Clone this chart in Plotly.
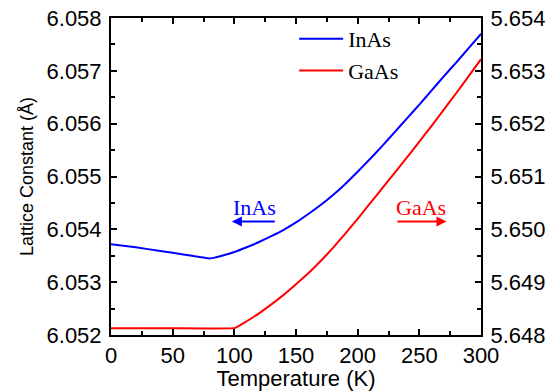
import plotly.graph_objects as go

# ---- data ----
inas_T = [0, 20, 40, 60, 80, 85, 90, 100, 110, 120, 130, 140, 150, 160, 170, 180,
          190, 200, 210, 220, 230, 240, 250, 260, 270, 280, 290, 300]
inas_a = [6.05372, 6.05366, 6.05359, 6.05352, 6.05345, 6.05347, 6.05350, 6.05357,
          6.05366, 6.05376, 6.05387, 6.05399, 6.05413, 6.05429, 6.05446, 6.05465,
          6.05486, 6.05509, 6.05533, 6.05558, 6.05584, 6.05610, 6.05636, 6.05663,
          6.05690, 6.05716, 6.05743, 6.05770]
gaas_T = [0, 50, 100, 105, 110, 120, 130, 140, 150, 160, 170, 180, 190, 200,
          210, 220, 230, 240, 250, 260, 270, 280, 290, 300]
gaas_a = [5.64813, 5.64813, 5.64813, 5.64819, 5.64826, 5.64841, 5.64858, 5.64876,
          5.64896, 5.64917, 5.64940, 5.64965, 5.64992, 5.65020, 5.65049, 5.65078,
          5.65107, 5.65136, 5.65166, 5.65196, 5.65227, 5.65258, 5.65290, 5.65322]
x_ticks = [0, 50, 100, 150, 200, 250, 300]
left_ticks = [6.052, 6.053, 6.054, 6.055, 6.056, 6.057, 6.058]
right_ticks = [5.648, 5.649, 5.650, 5.651, 5.652, 5.653, 5.654]

SANS = "Liberation Sans, Arial, sans-serif"
SERIF = "Liberation Serif, Times New Roman, serif"

fig = go.Figure()
fig.add_trace(go.Scatter(x=inas_T, y=inas_a, mode="lines", name="InAs",
                         line=dict(color="#0000ff", width=2, shape="spline", smoothing=0.5),
                         yaxis="y"))
fig.add_trace(go.Scatter(x=gaas_T, y=gaas_a, mode="lines", name="GaAs",
                         line=dict(color="#ff0000", width=2, shape="spline", smoothing=0.3),
                         yaxis="y2"))

axis_common = dict(showline=True, linecolor="black", linewidth=2, ticks="inside",
                   ticklen=6, tickwidth=2, tickcolor="black", showgrid=False,
                   zeroline=False, automargin=False, ticklabeloverflow="allow",
                   tickfont=dict(family=SANS, size=22, color="black"))

fig.update_layout(
    width=557, height=391,
    margin=dict(l=111, r=76, t=18, b=56),
    paper_bgcolor="white", plot_bgcolor="white",
    showlegend=True,
    legend=dict(x=0.495, y=1.0, xanchor="left", yanchor="top",
                bgcolor="rgba(0,0,0,0)", font=dict(family=SERIF, size=22, color="black"),
                itemwidth=44),
    xaxis=dict(range=[0, 300], tickvals=x_ticks, mirror="ticks", ticklabelstandoff=0,
               minor=dict(dtick=25, ticks="inside", ticklen=4, tickwidth=2, tickcolor="black"),
               title=dict(text="Temperature (K)", font=dict(family=SANS, size=22, color="black"),
                          standoff=0),
               **axis_common),
    yaxis=dict(range=[6.052, 6.058], tickvals=left_ticks, tickformat=".3f", ticklabelstandoff=3,
               minor=dict(dtick=0.0005, ticks="inside", ticklen=4, tickwidth=2, tickcolor="black"),
               title=dict(text="Lattice Constant (Å)", font=dict(family=SANS, size=18, color="black"),
                          standoff=8),
               **axis_common),
    yaxis2=dict(range=[5.648, 5.654], tickvals=right_ticks, tickformat=".3f", ticklabelstandoff=3,
                overlaying="y", side="right",
                minor=dict(dtick=0.0005, ticks="inside", ticklen=4, tickwidth=2, tickcolor="black"),
                **axis_common),
    annotations=[
        dict(x=98, y=6.05415, xref="x", yref="y", ax=134, ay=6.05415, axref="x", ayref="y",
             showarrow=True, arrowhead=2, arrowsize=1, arrowwidth=2, arrowcolor="#0000ff", text=""),
        dict(x=116, y=6.05442, xref="x", yref="y", text="InAs", showarrow=False,
             font=dict(family=SERIF, size=22, color="#0000ff")),
        dict(x=272, y=6.05415, xref="x", yref="y", ax=231, ay=6.05415, axref="x", ayref="y",
             showarrow=True, arrowhead=2, arrowsize=1, arrowwidth=2, arrowcolor="#ff0000", text=""),
        dict(x=251, y=6.05442, xref="x", yref="y", text="GaAs", showarrow=False,
             font=dict(family=SERIF, size=22, color="#ff0000")),
    ],
)

fig.write_html("out.html", config={"displayModeBar": False},
               post_script="document.body.style.margin='0px';")
